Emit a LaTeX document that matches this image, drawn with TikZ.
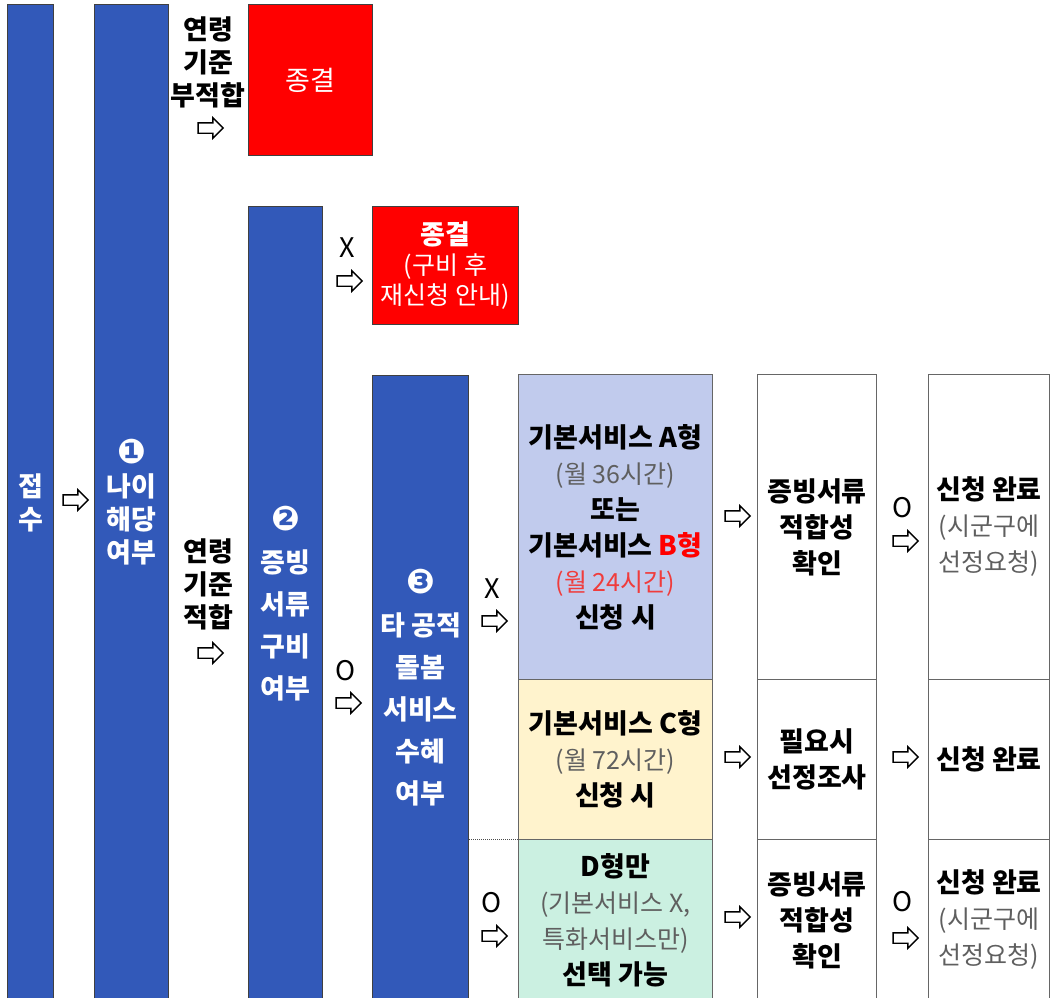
\documentclass[tikz,border=0pt]{standalone}
\usepackage{fontspec}
\setmainfont{Noto Sans CJK KR}
\newfontfamily\arrowfont{DejaVu Sans}
\usetikzlibrary{shapes.arrows}
\definecolor{colblue}{HTML}{3259B9}
\definecolor{endred}{HTML}{FF0000}
\definecolor{abfill}{HTML}{C1CBED}
\definecolor{cfill}{HTML}{FFF3CD}
\definecolor{dfill}{HTML}{CBF0E1}
\definecolor{subgray}{HTML}{5F5F5F}
\definecolor{subred}{HTML}{F03C3C}
\newcommand{\circnum}[1]{{\arrowfont\fontsize{34}{29}\selectfont #1}}
\newcommand{\subtxt}[1]{{\color{subgray}\mdseries\fontsize{25}{35}\selectfont #1}}

\begin{document}
\begin{tikzpicture}[x=1pt,y=-1pt,
    box/.style={draw=black!75, line width=1pt, anchor=north west, inner sep=0pt, align=center},
    bluecol/.style={box, fill=colblue, text=white, font=\fontsize{27}{33}\selectfont\bfseries},
    redbox/.style={box, fill=endred, text=white},
    stagebox/.style={box, draw=black!60, font=\fontsize{27}{36}\selectfont\bfseries},
    cue/.style={align=center, inner sep=0pt, font=\fontsize{27}{33}\selectfont\bfseries},
    choice/.style={inner sep=0pt, font=\fontsize{27}{33}\selectfont},
    hollow/.style={single arrow, draw=black, fill=white, line width=1.4pt,
        inner xsep=6pt, inner ysep=4.5pt, minimum height=25, single arrow head extend=5pt,
        single arrow tip angle=90}]
    \useasboundingbox (0,0) rectangle (1050,998);
    \node[bluecol, minimum width=46, minimum height=996] (jeopsu) at (7,4) {접\\수};
    \node[bluecol, minimum width=74, minimum height=996] (age) at (94,4) {\circnum{❶}\\나이\\해당\\여부};
    \node[redbox, minimum width=124, minimum height=151, font=\fontsize{27}{33}\selectfont] (end1) at (248,4) {종결};
    \node[bluecol, minimum width=74, minimum height=794, font=\fontsize{27}{42}\selectfont\bfseries] (docs) at (248,206) {\circnum{❷}\\증빙\\서류\\구비\\여부};
    \node[redbox, minimum width=146, minimum height=118, font=\fontsize{25}{30}\selectfont] (end2) at (372,206) {\textbf{\fontsize{27}{30}\selectfont 종결}\\(구비 후\\재신청 안내)};
    \node[bluecol, minimum width=96, minimum height=625, font=\fontsize{27}{42}\selectfont\bfseries] (other) at (372,375) {\circnum{❸}\\타 공적\\돌봄\\서비스\\수혜\\여부};
    \node[stagebox, fill=abfill, minimum width=194, minimum height=305] (typeab) at (518,374) {기본서비스 A형\\\subtxt{(월 36시간)}\\또는\\기본서비스 \textcolor{red}{B형}\\{\color{subred}\mdseries\fontsize{25}{35}\selectfont (월 24시간)}\\신청 시};
    \node[stagebox, fill=cfill, minimum width=194, minimum height=160] (typec) at (518,679) {기본서비스 C형\\\subtxt{(월 72시간)}\\신청 시};
    \node[stagebox, fill=dfill, minimum width=194, minimum height=161] (typed) at (518,839) {D형만\\\subtxt{(기본서비스 X,}\\\subtxt{특화서비스만)}\\선택 가능};
    \node[stagebox, minimum width=119, minimum height=305] (checkab) at (757,374) {증빙서류\\적합성\\확인};
    \node[stagebox, minimum width=119, minimum height=160] (surveyc) at (757,679) {필요시\\선정조사};
    \node[stagebox, minimum width=119, minimum height=161] (checkd) at (757,839) {증빙서류\\적합성\\확인};
    \node[stagebox, minimum width=121, minimum height=305] (doneab) at (928,374) {신청 완료\\\subtxt{(시군구에}\\\subtxt{선정요청)}};
    \node[stagebox, minimum width=121, minimum height=160] (donec) at (928,679) {신청 완료};
    \node[stagebox, minimum width=121, minimum height=161] (doned) at (928,839) {신청 완료\\\subtxt{(시군구에}\\\subtxt{선정요청)}};
    \draw[densely dotted, black!70, line width=1pt] (other.east |- typed.north west) -- (typed.north west);
    \node[cue] (failcue) at (208,62) {연령\\기준\\부적합};
    \node[cue] (passcue) at (208,584) {연령\\기준\\적합};
    \node[choice] (nocue1) at (347,248) {X};
    \node[choice] (yescue1) at (346,671) {O};
    \node[choice] (nocue2) at (492,589) {X};
    \node[choice] (yescue2) at (492,903) {O};
    \node[choice] (yescue3) at (903,508) {O};
    \node[choice] (yescue4) at (903,902) {O};
    \node[hollow] (arr0) at (73,500) {};
    \node[hollow] (arrfail) at (208,128) {};
    \node[hollow] (arrpass) at (208,653) {};
    \node[hollow] (arrno1) at (347,281) {};
    \node[hollow] (arryes1) at (346,703) {};
    \node[hollow] (arrno2) at (492,621) {};
    \node[hollow] (arryes2) at (492,936) {};
    \node[hollow] (arrab) at (735,516) {};
    \node[hollow] (arrc) at (735,757) {};
    \node[hollow] (arrd) at (735,917) {};
    \node[hollow] (arryes3) at (903,541) {};
    \node[hollow] (arrc2) at (903,757) {};
    \node[hollow] (arryes4) at (903,938) {};
\end{tikzpicture}
\end{document}
